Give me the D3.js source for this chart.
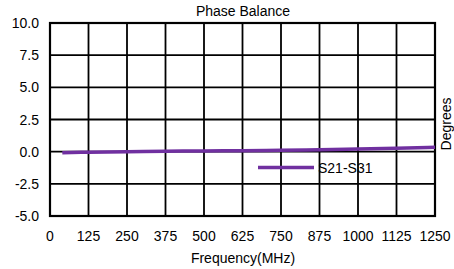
<!DOCTYPE html>
<html><head><meta charset="utf-8">
<script src="https://cdn.jsdelivr.net/npm/d3@7"></script>
<style>body{margin:0;background:#fff}svg{display:block}text{font-family:"Liberation Sans",Arial,sans-serif}</style>
</head><body><svg id="c" width="454" height="269"></svg>
<script>
const freqs = [40, 125, 250, 375, 500, 625, 750, 875, 1000, 1125, 1250];
const balance = [-0.08, -0.04, 0.0, 0.03, 0.06, 0.08, 0.11, 0.15, 0.2, 0.26, 0.35];
const xTicks = [0,125,250,375,500,625,750,875,1000,1125,1250];
const yTicks = [-5,-2.5,0,2.5,5,7.5,10];
const seriesName = "S21-S31";
const title = "Phase Balance";
const xLabel = "Frequency(MHz)";
const yLabel = "Degrees";

const svg = d3.select("#c");
const L=50, R=435, T=23, B=216;
const x = d3.scaleLinear().domain([0,1250]).range([L,R]);
const y = d3.scaleLinear().domain([-5,10]).range([B,T]);

const g = svg.append("g");
g.selectAll(".vx").data(xTicks).join("line")
 .attr("x1",d=>x(d)).attr("x2",d=>x(d)).attr("y1",T).attr("y2",B)
 .attr("stroke","#000").attr("stroke-width",1.8);
g.selectAll(".hy").data(yTicks).join("line")
 .attr("y1",d=>y(d)).attr("y2",d=>y(d)).attr("x1",L).attr("x2",R)
 .attr("stroke","#000").attr("stroke-width",1.8);
g.append("rect").attr("x",L).attr("y",T).attr("width",R-L).attr("height",B-T)
 .attr("fill","none").attr("stroke","#000").attr("stroke-width",2.2);

svg.selectAll(".yl").data(yTicks).join("text")
 .attr("x",39).attr("y",d=>y(d)).attr("dy","0.36em").attr("text-anchor","end")
 .attr("font-size",14).attr("fill","#000").text(d=>d.toFixed(1));
svg.selectAll(".xl").data(xTicks).join("text")
 .attr("x",d=>x(d)).attr("y",240.5).attr("text-anchor","middle")
 .attr("font-size",14).attr("fill","#000").text(d=>d);

svg.append("text").attr("x",243).attr("y",16).attr("text-anchor","middle").attr("font-size",14).text(title);
svg.append("text").attr("x",243).attr("y",263).attr("text-anchor","middle").attr("font-size",14).text(xLabel);
svg.append("text").attr("transform","translate(451,124) rotate(-90)").attr("text-anchor","middle").attr("font-size",14).text(yLabel);

const line = d3.line().x((d,i)=>x(freqs[i])).y(d=>y(d)).curve(d3.curveMonotoneX);
svg.append("path").datum(balance).attr("d",line).attr("fill","none")
 .attr("stroke","#7030A0").attr("stroke-width",3.5);

svg.append("line").attr("x1",258).attr("x2",314).attr("y1",167.5).attr("y2",167.5)
 .attr("stroke","#7030A0").attr("stroke-width",3.5);
svg.append("text").attr("x",318).attr("y",167.5).attr("dy","0.36em").attr("font-size",14).text(seriesName);
</script></body></html>
